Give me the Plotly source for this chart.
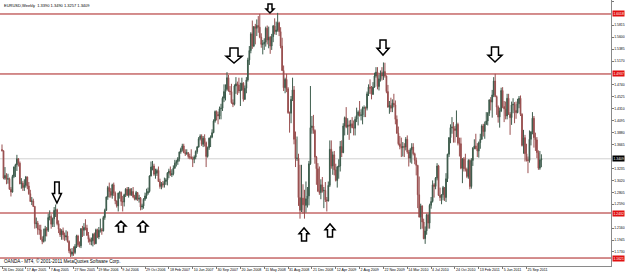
import plotly.graph_objects as go
import pandas as pd

# ---------------- data (prices in 1/10000) ----------------
symbol_title = "EURUSD,Weekly"
copyright_text = "OANDA - MT4, \u00a9 2001-2011 MetaQuotes Software Corp."
first_week = "2004-12-26"

opens = [
    13575,13554,13060,13110,13040,13050,12860,12810,13090,13260,13300,13410,13330,12960,12970,12890,12930,13080,12920,12780,
    12640,12650,12550,12240,12250,12140,12130,11960,11920,12020,12150,12120,12350,12370,12230,12330,12480,12490,12240,12140,
    12040,12110,12040,12000,12020,11920,11750,11690,11730,11720,11830,12020,11860,
    11840,12150,12120,12170,12160,12030,11960,11920,11930,12050,11880,12130,12000,12120,12130,12110,12350,12480,12720,12890,
    12820,12750,12940,12790,12650,12560,12790,12800,12640,12630,12760,12860,12750,12860,12760,12820,12720,12680,12800,12680,
    12700,12540,12560,12680,12740,12790,12820,13100,13260,13280,13130,13150,
    13200,13000,12910,12960,12940,13000,13030,13150,13190,13120,13140,13240,13330,13360,13410,13530,13580,13640,13520,13500,
    13520,13450,13440,13410,13400,13440,13540,13620,13770,13820,13670,13780,13700,13450,13610,13780,13800,13880,14090,14260,
    14210,14180,14310,14320,14500,14620,14660,14870,14630,14620,14420,14390,
    14720,14760,14740,14630,14650,14770,14480,14680,14830,15190,15360,15660,15440,15790,15760,15810,15780,15600,15470,15480,
    15510,15760,15550,15600,15440,15610,15800,15700,15730,15860,15700,15440,15000,14690,14840,14670,14240,14230,14480,14650,
    13760,13410,13420,12710,12480,12700,12580,12570,12690,12740,13320,13970,14000,
    13920,13440,13230,12830,12800,12940,12830,12840,12670,12650,12930,13580,13280,13480,13210,13020,13260,13280,13630,13520,
    14000,14150,13980,14020,14000,14040,13970,13960,14120,14190,14250,14190,14200,14320,14330,14320,14580,14700,14680,14570,
    14700,14900,14970,14710,14850,14960,14900,14980,14900,14620,14340,14370,
    14320,14410,14380,14120,13870,13680,13630,13610,13630,13620,13760,13530,13420,13570,13620,13500,13380,13290,12760,12360,
    12560,12270,11970,12110,12400,12250,12570,12640,12940,12910,13060,13280,12750,12710,12760,12890,12710,13050,13490,13790,
    13970,13980,13950,13920,14030,13690,13680,13240,13410,13230,13220,13090,
    13380,12910,13380,13600,13640,13590,13550,13700,13760,14000,13900,14030,14090,14230,14470,14430,14560,14810,14530,14340,
    14160,14270,14640,14350,14310,14180,14500,14210,14150,14380,14390,14280,14240,14400,14500,14210,13650,13790,13500,13390,
    13380,13760,13890,14140,13790,13750,13520,13240,13390,
]
highs = [
    13667,13560,13260,13150,13140,13070,12900,13120,13270,13320,13480,13420,13360,13060,13010,13040,13100,13090,12990,12850,
    12720,12690,12560,12350,12290,12220,12220,12010,12150,12200,12180,12420,12480,12410,12350,12540,12585,12510,12300,12160,
    12140,12170,12080,12120,12100,11940,11790,11800,11830,11870,12040,12040,11920,
    12160,12200,12250,12320,12220,12090,11990,11990,12070,12080,12150,12150,12180,12330,12160,12380,12510,12730,12920,12980,
    12880,12960,12980,12820,12660,12800,12830,12820,12740,12780,12880,12900,12900,12880,12880,12900,12760,12830,12810,12760,
    12720,12600,12700,12800,12870,12890,13110,13360,13370,13320,13230,13230,
    13270,13050,12990,13010,13070,13060,13170,13230,13270,13220,13290,13390,13390,13440,13540,13610,13680,13680,13580,13580,
    13530,13500,13580,13450,13470,13560,13640,13800,13850,13850,13820,13850,13720,13630,13790,13830,13940,14120,14280,14280,
    14260,14350,14400,14530,14750,14750,14970,14920,14720,14760,14480,14750,
    14880,14800,14870,14780,14870,14790,14730,14880,15230,15440,15690,15900,15800,15840,15920,15980,16020,15670,15550,15580,
    15790,15810,15790,15620,15660,15820,15940,15880,16038,15880,15780,15590,15090,14870,14940,14700,14260,14540,14870,14720,
    13900,13810,13500,13300,13300,12950,12850,13000,12900,13370,14720,14180,14200,
    13940,13460,13330,13270,13040,13080,12900,12990,12720,13000,13740,13740,13540,13550,13320,13280,13400,13730,13740,14050,
    14170,14340,14140,14100,14110,14160,14100,14170,14330,14280,14450,14300,14350,14370,14350,14620,14750,14840,14720,14790,
    14960,15060,15060,14920,15000,15060,15145,15140,14910,14740,14450,14510,
    14480,14580,14460,14190,13990,13820,13790,13710,13690,13800,13830,13570,13600,13690,13690,13520,13430,13300,13090,12600,
    12570,12330,12190,12420,12420,12600,12720,13020,12970,13080,13330,13300,12890,12770,12920,12900,13150,13500,13800,14030,
    14160,14070,14000,14280,14060,13790,13790,13420,13440,13500,13250,13400,
    13400,13420,13620,13760,13860,13690,13720,13860,14030,14040,14080,14250,14250,14480,14520,14650,14880,14940,14550,14370,
    14330,14690,14700,14450,14440,14580,14580,14250,14440,14500,14430,14440,14490,14540,14550,14230,13930,13840,13680,13450,
    13920,13910,14250,14180,13880,13800,13560,13550,13490,
]
lows = [
    13540,13040,13030,12950,12960,12850,12730,12800,13060,13080,13190,13270,12950,12870,12830,12830,12890,12860,12760,12630,
    12575,12540,12150,12160,12040,12040,11950,11870,11900,11920,12010,12090,12300,12150,12180,12180,12360,12210,12070,12000,
    11950,11950,11930,11940,11900,11710,11640,11650,11660,11690,11800,11820,11810,
    11800,12000,12020,12120,12020,11900,11860,11850,11830,11860,11870,11980,11960,12080,12040,12100,12310,12470,12670,12710,
    12710,12690,12740,12590,12530,12460,12690,12560,12460,12550,12720,12740,12710,12740,12740,12700,12660,12660,12650,12620,
    12480,12490,12510,12650,12690,12760,12800,13090,13200,13100,13050,13100,
    12990,12870,12860,12890,12890,12940,12930,13060,13100,13080,13110,13230,13270,13300,13360,13500,13540,13510,13460,13480,
    13410,13400,13400,13260,13330,13400,13500,13610,13740,13640,13620,13630,13260,13430,13570,13620,13780,13870,14060,14100,
    14030,14120,14120,14270,14430,14460,14640,14620,14560,14400,14340,14370,
    14580,14560,14590,14360,14630,14440,14470,14590,14800,15100,15310,15390,15420,15470,15620,15680,15580,15410,15290,15370,
    15430,15470,15400,15300,15370,15510,15650,15640,15700,15620,15400,14990,14630,14590,14610,14220,13880,14050,14450,13670,
    13260,13370,12560,12330,12450,12420,12330,12440,12530,12570,13300,13860,13860,
    13320,12940,12810,12760,12680,12800,12520,12630,12460,12640,12900,13230,13120,13110,13000,12890,13050,13180,13440,13510,
    13830,13960,13840,13750,13870,13960,13830,13830,14070,14010,14170,14100,14030,14160,14160,14280,14540,14580,14480,14560,
    14690,14870,14660,14640,14800,14820,14830,14870,14590,14330,14220,14250,
    14250,14340,14030,13860,13650,13580,13440,13450,13440,13560,13500,13270,13340,13320,13470,13310,13110,12520,12350,12140,
    12150,11960,11876,12040,12150,12150,12510,12620,12710,12860,13020,12740,12650,12590,12660,12650,12630,12990,13440,13690,
    13860,13700,13700,13800,13650,13450,13220,12970,13180,13180,13060,13050,
    12860,12870,13280,13580,13580,13440,13430,13590,13750,13810,13770,14020,14010,14180,14280,14150,14520,14520,14200,14060,
    13970,14250,14320,14070,14120,14120,14200,13840,14020,14230,14050,14130,14230,14320,14180,13630,13500,13360,13360,13150,
    13340,13650,13850,13610,13550,13420,13210,13210,13257,
]
closes = [
    13554,13060,13110,13040,13050,12860,12810,13090,13260,13300,13410,13330,12960,12970,12890,12930,13080,12920,12780,12640,
    12650,12550,12240,12250,12140,12130,11960,11920,12020,12150,12120,12350,12370,12230,12330,12480,12490,12240,12140,12040,
    12110,12040,12000,12020,11920,11750,11690,11730,11720,11830,12020,11860,11840,
    12150,12120,12170,12160,12030,11960,11920,11930,12050,11880,12130,12000,12120,12130,12110,12350,12480,12720,12890,12820,
    12750,12940,12790,12650,12560,12790,12800,12640,12630,12760,12860,12750,12860,12760,12820,12720,12680,12800,12680,12700,
    12540,12560,12680,12740,12790,12820,13100,13260,13280,13130,13150,13200,
    13000,12910,12960,12940,13000,13030,13150,13190,13120,13140,13240,13330,13360,13410,13530,13580,13640,13520,13500,13520,
    13450,13440,13410,13400,13440,13540,13620,13770,13820,13670,13780,13700,13450,13610,13780,13800,13880,14090,14260,14210,
    14180,14310,14320,14500,14620,14660,14870,14630,14620,14420,14390,14720,
    14760,14740,14630,14650,14770,14480,14680,14830,15190,15360,15660,15440,15790,15760,15810,15780,15600,15470,15480,15510,
    15760,15550,15600,15440,15610,15800,15700,15730,15860,15700,15440,15000,14690,14840,14670,14240,14230,14480,14650,13760,
    13410,13420,12710,12480,12700,12580,12570,12690,12740,13320,13970,14000,13920,
    13440,13230,12830,12800,12940,12830,12840,12670,12650,12930,13580,13280,13480,13210,13020,13260,13280,13630,13520,14000,
    14150,13980,14020,14000,14040,13970,13960,14120,14190,14250,14190,14200,14320,14330,14320,14580,14700,14680,14570,14700,
    14900,14970,14710,14850,14960,14900,14980,14900,14620,14340,14370,14320,
    14410,14380,14120,13870,13680,13630,13610,13630,13620,13760,13530,13420,13570,13620,13500,13380,13290,12760,12360,12560,
    12270,11970,12110,12400,12250,12570,12640,12940,12910,13060,13280,12750,12710,12760,12890,12710,13050,13490,13790,13970,
    13980,13950,13920,14030,13690,13680,13240,13410,13230,13220,13090,13380,
    12910,13380,13600,13640,13590,13550,13700,13760,14000,13900,14030,14090,14230,14470,14430,14560,14810,14530,14340,14160,
    14270,14640,14350,14310,14180,14500,14210,14150,14380,14390,14280,14240,14400,14500,14210,13650,13790,13500,13390,13380,
    13760,13890,14140,13790,13750,13520,13240,13390,13409,
]

# horizontal support / resistance levels and the bid line
level_lines = [1.6018, 1.4937, 1.2432, 1.1621]
bid_price = 1.3409

# right-axis price labels
price_ticks = [1.6245, 1.6030, 1.5815, 1.5600, 1.5385, 1.5170, 1.4955, 1.4740, 1.4525, 1.4310,
               1.4095, 1.3880, 1.3665, 1.3450, 1.3235, 1.3020, 1.2805, 1.2590, 1.2375, 1.2160,
               1.1945, 1.1730, 1.1515]

# hand-drawn arrows: tip date / tip price / direction
arrow_dates = ["2005-09-10", "2006-07-08", "2006-10-19", "2007-12-21", "2008-06-07",
               "2008-11-14", "2009-03-16", "2009-11-20", "2011-04-30"]
arrow_prices = [1.2612, 1.2288, 1.2288, 1.5135, 1.6036, 1.2162, 1.2234, 1.5279, 1.5153]
arrow_dirs = ["down", "up", "up", "down", "down", "up", "up", "down", "down"]

# ---------------- styles ----------------
arrow_w = [9, 10, 10, 16, 8, 10, 10, 12, 14]
arrow_h = [21, 11, 11, 15, 9, 13, 13, 15, 15]

W, H = 625, 272
M_L, M_R, M_T, M_B = 0, 14, 0, 6
PX_PER_BAR = 1.49
FIRST_BAR_PX = 2
Y_TOP = 1.627
PX_PER_UNIT = 555.0
FONT = "Liberation Sans"

scale = 10000.0
o = [v / scale for v in opens]
h = [v / scale for v in highs]
l = [v / scale for v in lows]
c = [v / scale for v in closes]
dates = pd.date_range(first_week, periods=len(closes), freq="7D")

plot_w = W - M_L - M_R
plot_h = H - M_T - M_B
t0 = pd.Timestamp(first_week)
x_left = t0 - pd.Timedelta(days=7 * FIRST_BAR_PX / PX_PER_BAR)
x_right = x_left + pd.Timedelta(days=7 * plot_w / PX_PER_BAR)
y_bottom = Y_TOP - plot_h / PX_PER_UNIT

fig = go.Figure()
fig.add_trace(go.Candlestick(
    x=dates, open=o, high=h, low=l, close=c,
    increasing=dict(line=dict(color="#3d5c4c", width=1), fillcolor="#22382c"),
    decreasing=dict(line=dict(color="#9a5050", width=1), fillcolor="#7a2828"),
    whiskerwidth=0, showlegend=False, hoverinfo="skip",
))

shapes = []
for lv in level_lines:
    shapes.append(dict(type="line", xref="paper", x0=0, x1=1, yref="y", y0=lv, y1=lv,
                       line=dict(color="#a81c1c", width=1), layer="below"))
shapes.append(dict(type="line", xref="paper", x0=0, x1=1, yref="y", y0=bid_price, y1=bid_price,
                   line=dict(color="#d2d2d2", width=1), layer="below"))

for d, p, dr, aw, ah in zip(arrow_dates, arrow_prices, arrow_dirs, arrow_w, arrow_h):
    hw = aw / 2.0
    sw = aw / 4.0
    hh = ah * 0.45
    s = 1 if dr == "down" else -1
    path = (f"M {-hw},{s*hh} L 0,0 L {hw},{s*hh} L {sw},{s*hh} L {sw},{s*ah} "
            f"L {-sw},{s*ah} L {-sw},{s*hh} Z")
    shapes.append(dict(type="path", xref="x", yref="y", xsizemode="pixel", ysizemode="pixel",
                       xanchor=d, yanchor=p, path=path,
                       line=dict(color="black", width=1.5), fillcolor="white", layer="above"))

LABEL_SIZE = 3.4
annotations = [
    dict(text=f"{symbol_title}  {o[-1]:.4f} {h[-1]:.4f} {l[-1]:.4f} {c[-1]:.4f}",
         xref="paper", yref="paper", x=0, y=1, xanchor="left", yanchor="top",
         xshift=2, yshift=-1, showarrow=False, font=dict(family=FONT, size=4, color="black")),
    dict(text=copyright_text, xref="paper", yref="paper", x=0, y=0, xanchor="left", yanchor="bottom",
         xshift=2, yshift=0, showarrow=False, font=dict(family=FONT, size=4.6, color="black")),
]
for lv in level_lines:
    annotations.append(dict(text=f"{lv:.4f}", xref="paper", yref="y", x=1, y=lv, xanchor="left",
                            yanchor="middle", showarrow=False, bgcolor="#e01010", borderpad=0.5,
                            xshift=0.5, font=dict(family=FONT, size=LABEL_SIZE, color="white")))
annotations.append(dict(text=f"{bid_price:.4f}", xref="paper", yref="y", x=1, y=bid_price,
                        xanchor="left", yanchor="middle", showarrow=False, bgcolor="black",
                        borderpad=0.5, xshift=0.5,
                        font=dict(family=FONT, size=LABEL_SIZE, color="white")))

# hide the axis labels that sit under a level / bid label box
marked = level_lines + [bid_price]
shown_ticks = [v for v in price_ticks if min(abs(v - m) for m in marked) * PX_PER_UNIT > 6]

tick_dates = list(dates[::16])

fig.update_layout(
    width=W, height=H,
    margin=dict(l=M_L, r=M_R, t=M_T, b=M_B, pad=0, autoexpand=False),
    paper_bgcolor="white", plot_bgcolor="white",
    shapes=shapes, annotations=annotations,
    showlegend=False,
    xaxis=dict(type="date", range=[x_left, x_right], rangeslider=dict(visible=False),
               tickvals=tick_dates, tickformat="%-d %b %Y", ticklabelposition="outside right",
               tickangle=0, automargin=False,
               ticks="outside", ticklen=2, tickcolor="#777", showgrid=False, zeroline=False,
               showline=True, linecolor="#8a8a8a", linewidth=1, mirror=True,
               tickfont=dict(family=FONT, size=3.6, color="black")),
    yaxis=dict(range=[y_bottom, Y_TOP], side="right", tickvals=shown_ticks,
               ticktext=[f"{v:.4f}" for v in shown_ticks], automargin=False,
               ticks="outside", ticklen=1.5, tickcolor="#777", showgrid=False, zeroline=False,
               showline=True, linecolor="#8a8a8a", linewidth=1, mirror=True,
               tickfont=dict(family=FONT, size=LABEL_SIZE, color="black")),
)

fig.write_html("out.html")
